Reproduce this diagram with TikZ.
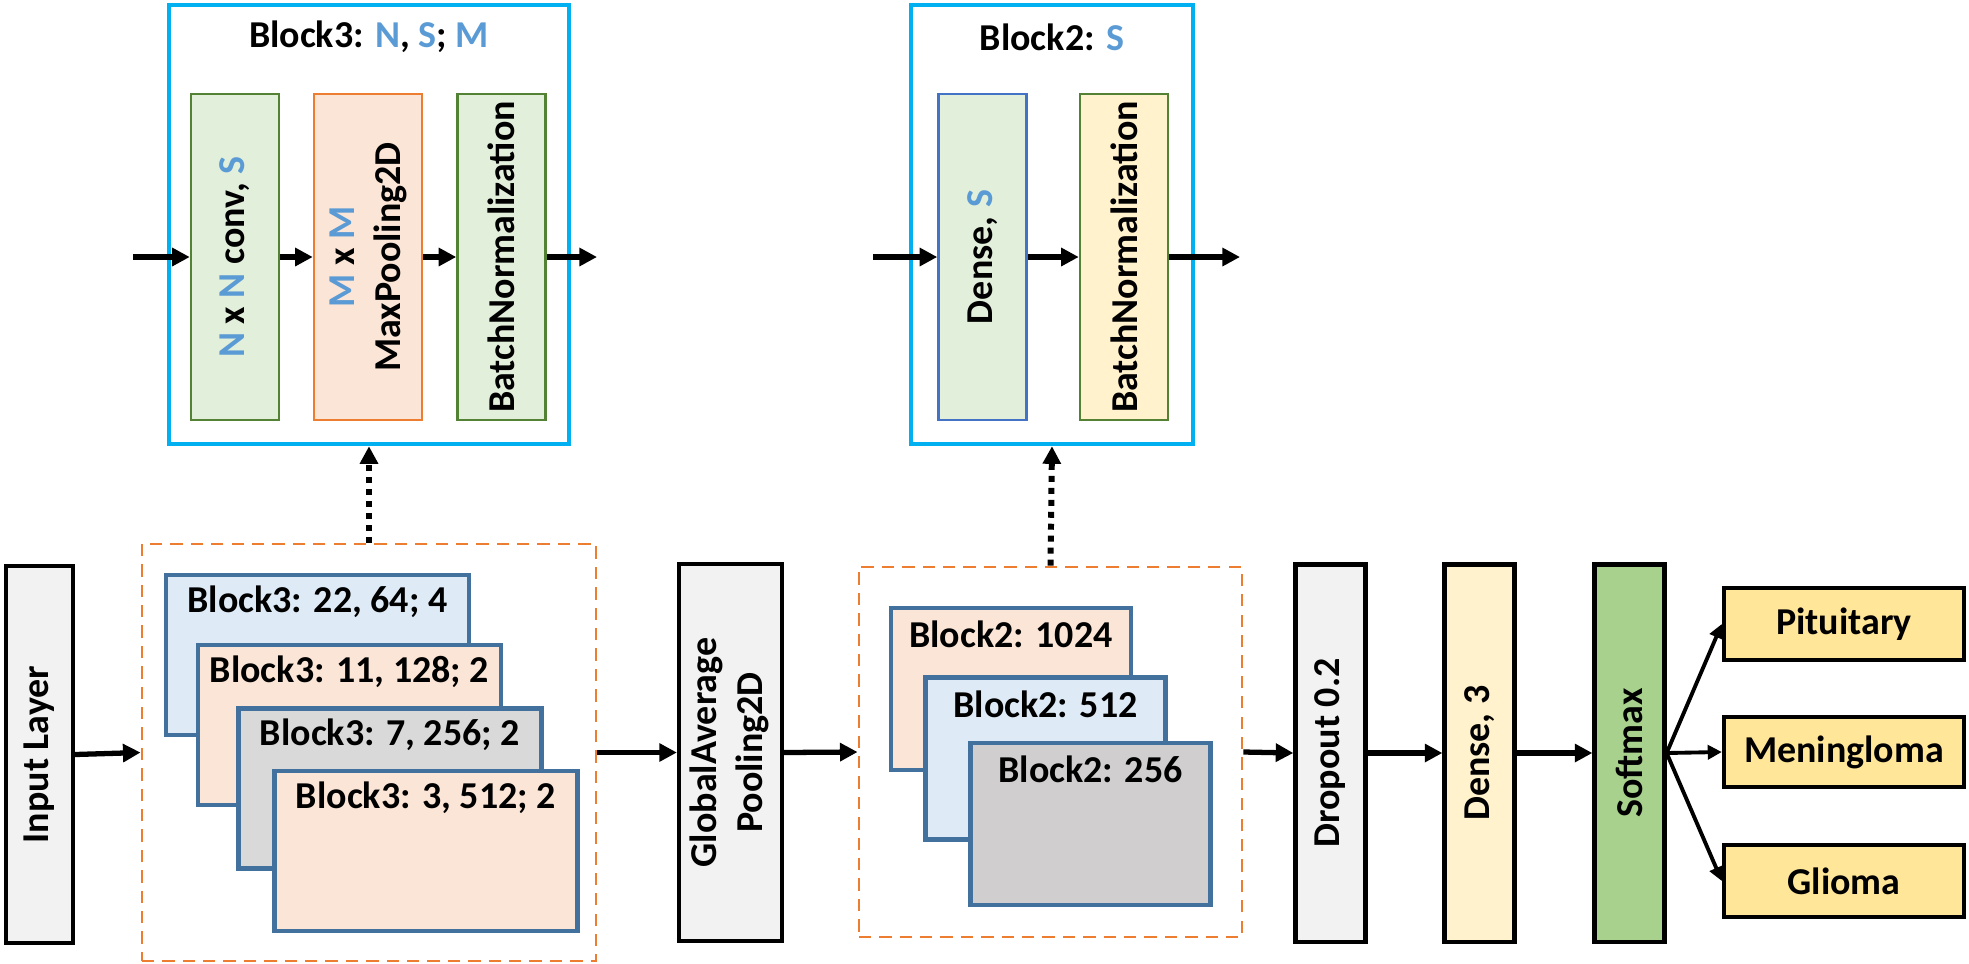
\documentclass[tikz,border=0pt]{standalone}
\usepackage{fontspec}
\setmainfont{Carlito}
\usetikzlibrary{arrows.meta,positioning}

\definecolor{cyanbox}{RGB}{0,176,240}
\definecolor{nblue}{RGB}{91,155,213}
\definecolor{grnline}{RGB}{84,130,53}
\definecolor{grnfill}{RGB}{226,239,218}
\definecolor{orgline}{RGB}{237,125,49}
\definecolor{peach}{RGB}{251,229,214}
\definecolor{dnsline}{RGB}{68,114,196}
\definecolor{cream}{RGB}{255,242,204}
\definecolor{stkline}{RGB}{65,113,156}
\definecolor{lblue}{RGB}{222,235,247}
\definecolor{mgray}{RGB}{217,217,217}
\definecolor{dgray}{RGB}{208,206,206}
\definecolor{lgray}{RGB}{242,242,242}
\definecolor{smgreen}{RGB}{169,209,142}
\definecolor{outyel}{RGB}{255,230,153}

\tikzset{
  blockbox/.style={draw=cyanbox, line width=1.2pt, minimum height=4.39cm},
  inner/.style={draw=grnline, fill=grnfill, line width=0.7pt,
    minimum width=0.88cm, minimum height=3.26cm, inner sep=0pt},
  layer/.style={draw=black, line width=1.2pt, minimum width=0.7cm,
    minimum height=3.77cm, inner sep=0pt},
  group/.style={draw=orgline, line width=0.75pt, dash pattern=on 3.5pt off 2.3pt},
  stackbox/.style={draw=stkline, line width=1.3pt, inner sep=0pt},
  outbox/.style={draw=black, fill=outyel, line width=1.2pt,
    minimum width=2.4cm, minimum height=0.72cm},
  flow/.style={-{Triangle[length=5pt,width=5pt]}, line width=1.5pt},
  thin flow/.style={-{Triangle[length=4pt,width=4pt]}, line width=1.1pt},
  link/.style={-{Triangle[length=5pt,width=5pt]}, line width=1.7pt,
    dash pattern=on 1.7pt off 1.7pt}
}

\begin{document}
\begin{tikzpicture}[x=0.01cm, y=-0.01cm,
    font=\bfseries\fontsize{10.8}{13}\selectfont]
  \useasboundingbox (0,0) rectangle (1969,963);

  % Block3 detail
  \node[blockbox, minimum width=4cm] (blk3) at (369,224.5) {};
  \node (blk3t) at (369,37) {Block3: \textcolor{nblue}{N}, \textcolor{nblue}{S}; \textcolor{nblue}{M}};
  \node[inner] (conv) at (235,257)
    {\rotatebox{90}{\textcolor{nblue}{N} x \textcolor{nblue}{N} conv, \textcolor{nblue}{S}}};
  \node[inner, draw=orgline, fill=peach, minimum width=1.08cm] (mpool) at (368,257)
    {\rotatebox{90}{\begin{tabular}{@{}c@{}}\textcolor{nblue}{M} x \textcolor{nblue}{M}\\MaxPooling2D\end{tabular}}};
  \node[inner] (bn3) at (501.5,257) {\rotatebox{90}{BatchNormalization}};
  \coordinate (b3in) at (133,257);
  \coordinate (b3out) at (597,257);
  \draw[flow] (b3in) -- (conv.west);
  \draw[flow] (conv.east) -- (mpool.west);
  \draw[flow] (mpool.east) -- (bn3.west);
  \draw[flow] (bn3.east) -- (b3out);

  % Block2 detail
  \node[blockbox, minimum width=2.82cm] (blk2) at (1052,224.5) {};
  \node (blk2t) at (1052,37) {Block2: \textcolor{nblue}{S}};
  \node[inner, draw=dnsline] (dense) at (982.5,257)
    {\rotatebox{90}{Dense, \textcolor{nblue}{S}}};
  \node[inner, fill=cream] (bn2) at (1124,257) {\rotatebox{90}{BatchNormalization}};
  \coordinate (b2in) at (873,257);
  \coordinate (b2out) at (1240,257);
  \draw[flow] (b2in) -- (dense.west);
  \draw[flow] (dense.east) -- (bn2.west);
  \draw[flow] (bn2.east) -- (b2out);

  % main pipeline
  \node[layer, fill=lgray, minimum width=0.67cm] (inp) at (39.5,754.5) {\rotatebox{90}{Input Layer}};

  \node[group, minimum width=4.54cm, minimum height=4.17cm] (grp3) at (369,752.5) {};
  \node[stackbox, fill=lblue, minimum width=3.03cm, minimum height=1.6cm] (s31) at (317.5,655) {};
  \node at ([yshift=-0.29cm]s31.north) {Block3: 22, 64; 4};
  \node[stackbox, fill=peach, minimum width=3.03cm, minimum height=1.6cm] (s32) at (349.5,725) {};
  \node at ([yshift=-0.29cm]s32.north) {Block3: 11, 128; 2};
  \node[stackbox, fill=mgray, minimum width=3.03cm, minimum height=1.6cm] (s33) at (390,788.5) {};
  \node at ([yshift=-0.29cm]s33.north) {Block3: 7, 256; 2};
  \node[stackbox, fill=peach, minimum width=3.03cm, minimum height=1.6cm] (s34) at (426,851) {};
  \node at ([yshift=-0.29cm]s34.north) {Block3: 3, 512; 2};

  \node[layer, fill=lgray, minimum width=1.03cm] (gap) at (730.5,752.5)
    {\rotatebox{90}{\begin{tabular}{@{}c@{}}GlobalAverage\\Pooling2D\end{tabular}}};

  \node[group, minimum width=3.83cm, minimum height=3.7cm] (grp2) at (1050.5,752) {};
  \node[stackbox, fill=peach, minimum width=2.4cm, minimum height=1.62cm] (s21) at (1011,689) {};
  \node at ([yshift=-0.29cm]s21.north) {Block2: 1024};
  \node[stackbox, fill=lblue, minimum width=2.4cm, minimum height=1.62cm] (s22) at (1045.5,758.5) {};
  \node at ([yshift=-0.29cm]s22.north) {Block2: 512};
  \node[stackbox, fill=dgray, minimum width=2.4cm, minimum height=1.62cm] (s23) at (1090.5,824) {};
  \node at ([yshift=-0.29cm]s23.north) {Block2: 256};

  \node[layer, fill=lgray] (drop) at (1330.5,753) {\rotatebox{90}{Dropout 0.2}};
  \node[layer, fill=cream] (dns3) at (1479.5,753) {\rotatebox{90}{Dense, 3}};
  \node[layer, fill=smgreen] (smax) at (1629.5,753) {\rotatebox{90}{Softmax}};

  \node[outbox] (pit) at (1844,624) {Pituitary};
  \node[outbox, minimum height=0.7cm] (men) at (1844,752) {Meningloma};
  \node[outbox] (gli) at (1844,881) {Glioma};

  \draw[flow] (inp.east) -- (grp3.west);
  \draw[flow] (grp3.east) -- (gap.west);
  \draw[flow] (gap.east) -- (grp2.west);
  \draw[flow] (grp2.east) -- (drop.west);
  \draw[flow] (drop.east) -- (dns3.west);
  \draw[flow] (dns3.east) -- (smax.west);
  \draw[thin flow] (smax.east) -- (pit.west);
  \draw[thin flow] (smax.east) -- (men.west);
  \draw[thin flow] (smax.east) -- (gli.west);

  % detail links
  \draw[link] (grp3.north) -- (blk3.south);
  \draw[link] (grp2.north) -- (blk2.south);
\end{tikzpicture}
\end{document}
